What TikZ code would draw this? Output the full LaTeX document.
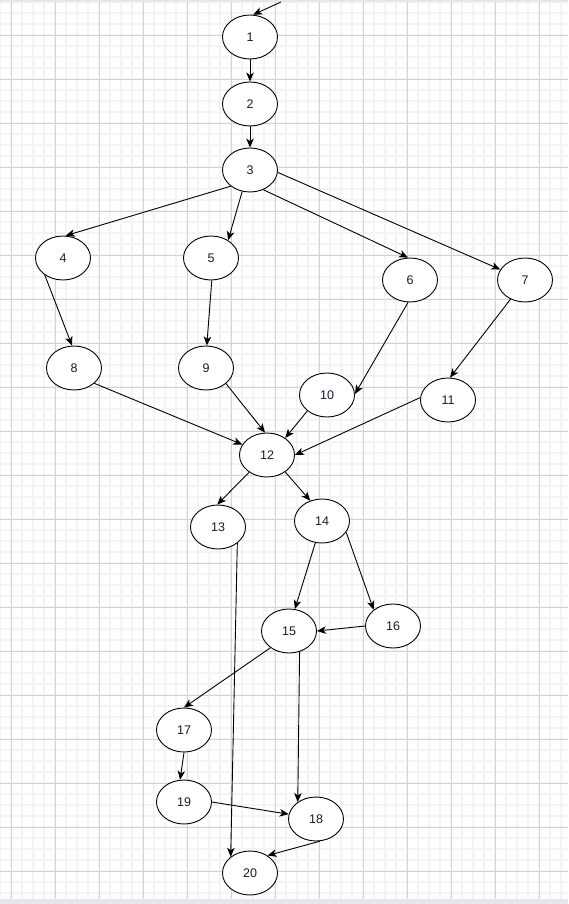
\documentclass[tikz,border=0pt]{standalone}
\usepackage{fontspec}
\setmainfont{Liberation Sans}
\usetikzlibrary{arrows.meta,shapes.geometric}
\definecolor{minorgrid}{HTML}{F4F4F4}
\definecolor{majorgrid}{HTML}{D3D3D3}
\definecolor{edgeband}{HTML}{E6E6EE}
\definecolor{labelcol}{HTML}{1A1A2E}
\tikzset{
  state/.style={ellipse, draw=black, line width=0.9pt, fill=white, inner sep=0pt,
    minimum width=55pt, minimum height=44pt, text=labelcol,
    font=\fontsize{12.5}{14}\selectfont},
  flow/.style={draw=black, line width=0.9pt, -{Stealth[length=9pt,width=7.5pt,inset=2.5pt]}},
}
\begin{document}
\begin{tikzpicture}[x=1pt,y=-1pt]
\useasboundingbox (0,0) rectangle (568,904);
\fill[white] (0,0) rectangle (568,904);
% grid
\foreach \i in {0,...,51} {\draw[minorgrid, line width=1.3pt] ({\i*11},0) -- ({\i*11},899);}
\foreach \j in {0,...,81} {\draw[minorgrid, line width=1.3pt] (0,{2+\j*11}) -- (568,{2+\j*11});}
\foreach \i in {0,...,12} {\draw[majorgrid, line width=0.8pt] ({11+\i*44},0) -- ({11+\i*44},899);}
\foreach \j in {0,...,19} {\draw[majorgrid, line width=0.8pt] (0,{35+\j*44}) -- (568,{35+\j*44});}
\fill[edgeband] (0,0) rectangle (568,2);
\fill[edgeband] (0,899) rectangle (568,904);

% nodes
\node[state] (n1) at (250,37) {1};
\node[state] (n2) at (250,104) {2};
\node[state] (n3) at (250,170) {3};
\node[state] (n4) at (63,258) {4};
\node[state] (n5) at (211,258) {5};
\node[state] (n6) at (410,280) {6};
\node[state] (n7) at (525,280) {7};
\node[state] (n8) at (74,368) {8};
\node[state] (n9) at (206,368) {9};
\node[state] (n10) at (327,395) {10};
\node[state] (n11) at (448,400) {11};
\node[state] (n12) at (267,455) {12};
\node[state] (n13) at (218,527) {13};
\node[state] (n14) at (322,521) {14};
\node[state] (n15) at (289,631) {15};
\node[state] (n16) at (393,626) {16};
\node[state] (n17) at (184,730) {17};
\node[state] (n18) at (316,819) {18};
\node[state] (n19) at (184,802) {19};
\node[state] (n20) at (250,873) {20};

\coordinate (entry) at (281,2);

% edges
\draw[flow] (entry) -- (n1.82);
\draw[flow] (n1.south) -- (n2.north);
\draw[flow] (n2.south) -- (n3.north);
\draw[flow] (n3.220) -- (n4.83);
\draw[flow] (n3.250) -- (n5.46);
\draw[flow] (n3.304) -- (n6.95);
\draw[flow] (n3.-5) -- (n7.157);
\draw[flow] (n4.223) -- (n8.95);
\draw[flow] (n5.272) -- (n9.88);
\draw[flow] (n6.265) -- (n10.2);
\draw[flow] (n7.233) -- (n11.85);
\draw[flow] (n8.323) -- (n12.157);
\draw[flow] (n9.322) -- (n12.95);
\draw[flow] (n10.219) -- (n12.43);
\draw[flow] (n11.175) -- (n12.east);
\draw[flow] (n12.224) -- (n13.92);
\draw[flow] (n12.317) -- (n14.120);
\draw[flow] (n13.320) -- (n20.140);
\draw[flow] (n14.253) -- (n15.75);
\draw[flow] (n14.335) -- (n16.140);
\draw[flow] (n16.180) -- (n15.east);
\draw[flow] (n15.222) -- (n17.north);
\draw[flow] (n15.297) -- (n18.137);
\draw[flow] (n17.south) -- (n19.100);
\draw[flow] (n19.east) -- (n18.170);
\draw[flow] (n18.280) -- (n20.45);
\end{tikzpicture}
\end{document}
